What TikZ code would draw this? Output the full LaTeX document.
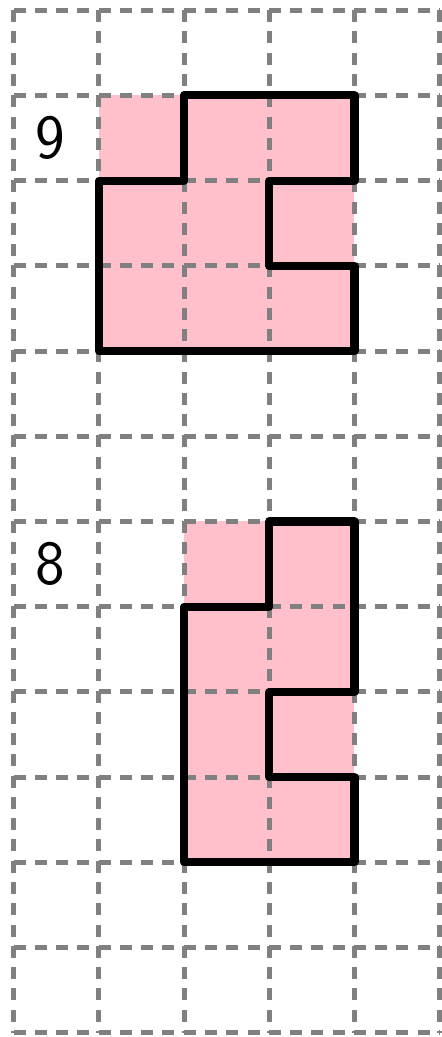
\documentclass[tikz,border=0pt]{standalone}
\usepackage{tikz}
\usetikzlibrary{positioning}
\definecolor{cellPink}{HTML}{FFC0CB}
\definecolor{gridGray}{HTML}{808080}

\begin{document}
\begin{tikzpicture}[x=1cm,y=1cm,
  gridline/.style={gridGray,line width=1.7pt,dash pattern=on 4pt off 3.1pt},
  outline/.style={black,line width=2.7pt,line join=round},
  digit/.style={font=\fontsize{21}{25}\selectfont\sffamily,inner sep=0pt}]
\useasboundingbox (-0.16,-0.05) rectangle (5.02,12.12);
% pink cells
\fill[cellPink] (1,8) rectangle (4,11);
\fill[cellPink] (2,2) rectangle (4,6);
% grid
\foreach \x in {0,...,5} \draw[gridline] (\x,12) -- (\x,0);
\foreach \y in {0,...,12} \draw[gridline] (0,\y) -- (5,\y);
% digit nine
\draw[outline] (2,11) -- (4,11) -- (4,10) -- (3,10) -- (3,9) -- (4,9) -- (4,8)
  -- (1,8) -- (1,10) -- (2,10) -- cycle;
\node[digit] (nine) at (0.43,10.5) {9};
% digit eight
\draw[outline] (3,6) -- (4,6) -- (4,4) -- (3,4) -- (3,3) -- (4,3) -- (4,2)
  -- (2,2) -- (2,5) -- (3,5) -- cycle;
\node[digit] (eight) at (0.43,5.5) {8};
\end{tikzpicture}
\end{document}
